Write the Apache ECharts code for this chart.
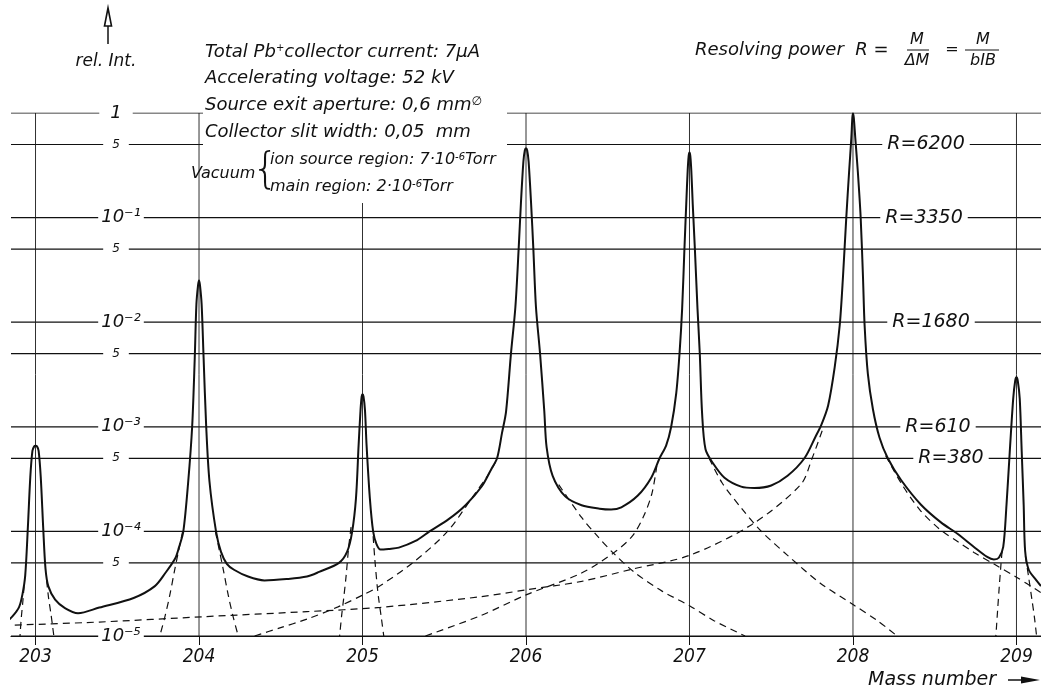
<!DOCTYPE html>
<html><head><meta charset="utf-8">
<script src="https://cdn.jsdelivr.net/npm/echarts@6/dist/echarts.min.js"></script>
<style>html,body{margin:0;padding:0;background:#fff}#c{width:1041px;height:692px}</style>
</head><body><div id="c"></div>
<script>
// ---------- data ----------
const massTicks = [203, 204, 205, 206, 207, 208, 209];
const yLevels = [1, 0.5, 0.1, 0.05, 0.01, 0.005, 0.001, 0.0005, 0.0001, 0.00005, 0.00001];
const yLevelLabels = ['1', '5', '10⁻¹', '5', '10⁻²', '5', '10⁻³', '5', '10⁻⁴', '5', '10⁻⁵'];
const rLevels = [0.5, 0.1, 0.01, 0.001, 0.0005];
const rLabels = ['R=6200', 'R=3350', 'R=1680', 'R=610', 'R=380'];

// measured total intensity (solid curve): [mass number, rel. int.]
const sumCurve = [
 [202.80,1.26e-5],[202.86,1.55e-5],[202.90,1.9e-5],[202.92,2.5e-5],[202.937,3.8e-5],[202.953,1.08e-4],
 [202.968,3.3e-4],[202.981,5.9e-4],[202.992,6.5e-4],[203.0,6.6e-4],[203.009,6.5e-4],[203.019,5.9e-4],
 [203.032,3.3e-4],[203.047,1.08e-4],[203.061,4.4e-5],[203.078,3.0e-5],[203.12,2.23e-5],[203.18,1.85e-5],
 [203.26,1.65e-5],[203.39,1.87e-5],[203.60,2.31e-5],[203.73,3.0e-5],[203.794,4.0e-5],[203.854,5.5e-5],
 [203.877,7.0e-5],[203.904,1.0e-4],[203.934,3.0e-4],[203.958,1.0e-3],[203.974,4.6e-3],[203.984,0.0148],
 [203.994,0.0225],[204.0,0.025],[204.006,0.0225],[204.016,0.0148],[204.028,4.6e-3],[204.044,1.0e-3],
 [204.064,3.0e-4],[204.104,1.0e-4],[204.134,6.4e-5],[204.17,4.9e-5],[204.214,4.3e-5],[204.3,3.7e-5],
 [204.4,3.4e-5],[204.535,3.5e-5],[204.66,3.7e-5],[204.735,4.1e-5],[204.856,5.0e-5],[204.906,6.4e-5],
 [204.936,9.8e-5],[204.96,2.07e-4],[204.976,6.6e-4],[204.988,1.45e-3],[204.995,1.95e-3],[205.0,2.05e-3],
 [205.006,1.95e-3],[205.015,1.45e-3],[205.025,6.6e-4],[205.045,2.07e-4],[205.065,1.0e-4],[205.085,7.6e-5],
 [205.11,6.7e-5],[205.16,6.8e-5],[205.222,7.0e-5],[205.324,8.1e-5],[205.41,1.0e-4],[205.527,1.31e-4],
 [205.63,1.78e-4],[205.73,2.7e-4],[205.79,4.0e-4],[205.823,5.0e-4],[205.853,8.7e-4],[205.878,1.4e-3],
 [205.908,5.0e-3],[205.935,0.0139],[205.955,0.05],[205.969,0.138],[205.984,0.343],[205.993,0.44],
 [206.0,0.46],[206.007,0.44],[206.016,0.343],[206.031,0.138],[206.045,0.05],[206.061,0.0139],
 [206.086,5.0e-3],[206.112,1.4e-3],[206.126,6.4e-4],[206.163,3.4e-4],[206.24,2.16e-4],[206.34,1.78e-4],
 [206.45,1.65e-4],[206.52,1.62e-4],[206.583,1.7e-4],[206.684,2.2e-4],[206.766,3.26e-4],[206.817,5.0e-4],
 [206.857,6.6e-4],[206.888,1.0e-3],[206.919,2.1e-3],[206.939,5.0e-3],[206.955,0.0134],[206.969,0.05],
 [206.98,0.133],[206.989,0.284],[206.995,0.39],[207.0,0.42],[207.005,0.39],[207.011,0.284],
 [207.02,0.133],[207.033,0.05],[207.049,0.0134],[207.063,5.0e-3],[207.077,1.35e-3],[207.098,6.1e-4],
 [207.143,4.5e-4],[207.214,3.26e-4],[207.316,2.68e-4],[207.397,2.6e-4],[207.5,2.75e-4],[207.6,3.4e-4],
 [207.703,5.0e-4],[207.77,8.0e-4],[207.807,1.05e-3],[207.848,1.6e-3],[207.888,3.7e-3],[207.919,9.4e-3],
 [207.939,0.0275],[207.959,0.1],[207.976,0.27],[207.99,0.58],[207.996,0.9],[208.0,0.99],
 [208.005,0.9],[208.014,0.58],[208.03,0.27],[208.047,0.1],[208.061,0.0275],[208.071,9.4e-3],
 [208.091,3.2e-3],[208.122,1.47e-3],[208.162,7.9e-4],[208.213,5.0e-4],[208.294,3.1e-4],[208.416,1.8e-4],
 [208.538,1.22e-4],[208.639,9.5e-5],[208.74,7.1e-5],[208.821,5.7e-5],[208.862,5.4e-5],[208.892,5.6e-5],
 [208.919,7.1e-5],[208.939,1.8e-4],[208.959,5.8e-4],[208.98,1.86e-3],[208.992,2.75e-3],[209.0,2.97e-3],
 [209.008,2.75e-3],[209.02,1.86e-3],[209.032,5.8e-4],[209.044,1.8e-4],[209.053,6.5e-5],[209.075,4.3e-5],
 [209.116,3.5e-5],[209.15,3.0e-5]
];

// single-line components (dashed curves): [mass number, rel. int.]
const comp203L = [[202.93,3.0e-5],[202.922,2.1e-5],[202.913,1.5e-5],[202.905,1e-5]];
const comp203R = [[203.068,3.4e-5],[203.08,2.3e-5],[203.095,1.6e-5],[203.112,1e-5]];
const comp204L = [[203.9,1.0e-4],[203.875,6.5e-5],[203.85,4.2e-5],[203.82,2.4e-5],[203.79,1.5e-5],[203.76,1e-5]];
const comp204R = [[204.1,1.0e-4],[204.125,6.5e-5],[204.15,4.2e-5],[204.18,2.4e-5],[204.21,1.5e-5],[204.24,1e-5]];
const comp205L = [[204.93,1.1e-4],[204.915,7e-5],[204.9,3.8e-5],[204.885,2.3e-5],[204.873,1.6e-5],[204.86,1e-5]];
const comp205R = [[205.065,9e-5],[205.075,5.5e-5],[205.09,3e-5],[205.1,2.2e-5],[205.115,1.5e-5],[205.13,1e-5]];
const comp206L = [[204.34,1e-5],[204.49,1.19e-5],[204.66,1.45e-5],[204.85,1.9e-5],[205.0,2.46e-5],[205.11,3.04e-5],
 [205.32,5.2e-5],[205.52,1.0e-4],[205.67,2.1e-4],[205.77,3.5e-4],[205.82,4.8e-4]];
const comp206R = [[206.2,2.8e-4],[206.34,1.36e-4],[206.44,8.9e-5],[206.53,6.3e-5],[206.66,4.1e-5],[206.83,2.7e-5],
 [207.0,1.95e-5],[207.15,1.4e-5],[207.34,1.0e-5]];
const comp207L = [[205.385,1e-5],[205.72,1.56e-5],[206.0,2.47e-5],[206.34,4.0e-5],[206.54,6.3e-5],[206.65,9e-5],
 [206.72,1.4e-4],[206.77,2.3e-4],[206.80,4.2e-4]];
const comp207R = [[207.12,5.0e-4],[207.2,2.9e-4],[207.32,1.65e-4],[207.44,1.0e-4],[207.6,5.9e-5],[207.8,3.2e-5],
 [208.0,2.0e-5],[208.15,1.4e-5],[208.27,1.0e-5]];
const comp208L = [[202.80,1.26e-5],[203.39,1.36e-5],[204.03,1.53e-5],[204.66,1.71e-5],[205.11,1.88e-5],[205.72,2.37e-5],
 [206.0,2.76e-5],[206.34,3.33e-5],[206.65,4.36e-5],[207.0,5.9e-5],[207.38,1.16e-4],[207.68,2.8e-4],[207.75,5.0e-4],[207.82,1.0e-3]];
const comp208R = [[208.2,5.3e-4],[208.3,2.8e-4],[208.41,1.6e-4],[208.53,1.05e-4],[208.64,8.0e-5],[208.74,6.3e-5],
 [208.86,4.9e-5],[209.0,3.65e-5],[209.15,2.6e-5]];
const comp209L = [[208.912,6.5e-5],[208.905,4.8e-5],[208.895,3.0e-5],[208.885,1.8e-5],[208.874,1e-5]];
const comp209R = [[209.055,5.8e-5],[209.075,3.6e-5],[209.095,2.2e-5],[209.11,1.5e-5],[209.123,1e-5]];
const components = [comp203L, comp203R, comp204L, comp204R, comp205L, comp205R, comp206L, comp206R,
  comp207L, comp207R, comp208L, comp208R, comp209L, comp209R];

// ---------- layout ----------
const GRID_LEFT = 11, GRID_TOP = 113, GRID_W = 1030, GRID_H = 523;
const X_MIN = 202.85, X_MAX = 209.15, Y_MIN = 0.00001, Y_MAX = 1;
const pxToMass = px => X_MIN + (px - GRID_LEFT) * (X_MAX - X_MIN) / GRID_W;
const FONT = '"DejaVu Sans", "Liberation Sans", sans-serif';
const FONT_C = '"DejaVu Sans Condensed", "DejaVu Sans", sans-serif';
const INK = '#111';
const rLabelPx = [926, 924, 931, 938, 951];

const levelLabelData = yLevels.map((v, i) => {
  const t = yLevelLabels[i];
  const isFive = t === '5', isOne = t === '1';
  return {
    value: [pxToMass(isFive || isOne ? 116 : 121), v],
    label: { formatter: t, fontSize: isFive ? 12 : 18, padding: isFive ? [1, 9] : (isOne ? [0, 11] : [0, 3]) }
  };
});
const rLabelData = rLevels.map((v, i) => ({
  value: [pxToMass(rLabelPx[i]), v],
  label: { formatter: rLabels[i], fontSize: 19, padding: [0, 5] }
}));

const series = [];
// horizontal reference lines
yLevels.forEach(v => series.push({
  type: 'line', data: [[X_MIN, v], [X_MAX, v]], showSymbol: false, silent: true, z: 1,
  lineStyle: { color: INK, width: 1.2 }
}));
// vertical lines at the mass numbers
massTicks.forEach(m => series.push({
  type: 'line', data: [[m, Y_MIN], [m, Y_MAX]], showSymbol: false, silent: true, z: 1,
  lineStyle: { color: '#1a1a1a', width: 0.9 }
}));
series.push({
  type: 'line', data: sumCurve, showSymbol: false, smooth: 0.3, z: 3, silent: true,
  lineStyle: { color: INK, width: 2, join: 'round' }
});
components.forEach(c => series.push({
  type: 'line', data: c, showSymbol: false, smooth: 0.3, z: 3, silent: true,
  lineStyle: { color: INK, width: 1.2, type: [7, 5] }
}));
series.push({
  type: 'scatter', z: 10, silent: true, symbolSize: 0, itemStyle: { color: '#fff', opacity: 1 },
  data: levelLabelData.concat(rLabelData),
  label: { show: true, position: 'inside', color: INK, fontFamily: FONT, fontStyle: 'oblique',
           backgroundColor: '#fff', opacity: 1 }
});

const supRich = {
  s: { fontSize: 10, verticalAlign: 'top', fontFamily: FONT, fontStyle: 'oblique', fill: INK, lineHeight: 10 },
  d: { fontSize: 12, verticalAlign: 'top', fontFamily: FONT, fontStyle: 'normal', fill: INK, lineHeight: 11 }
};
function txt(text, x, y, size, extra) {
  return {
    type: 'text', x: x, y: y, z: 100,
    style: Object.assign({ text: text, fill: INK, fontSize: size, fontFamily: FONT, fontStyle: 'oblique',
      verticalAlign: 'middle', align: 'left', rich: supRich }, extra || {})
  };
}

const graphic = [
  { type: 'rect', z: 90, shape: { x: 203, y: 0, width: 304, height: 203 }, style: { fill: '#fff' } },
  // y-axis arrow
  { type: 'line', z: 100, shape: { x1: 108, y1: 20, x2: 108, y2: 44 }, style: { stroke: INK, lineWidth: 1.5 } },
  { type: 'polygon', z: 100, shape: { points: [[104.5, 26], [108, 8], [111.5, 26]] }, style: { fill: '#fff', stroke: INK, lineWidth: 1.6 } },
  txt('rel. Int.', 106, 62, 17, { align: 'center' }),
  txt('Total Pb{s|+}collector current: 7µA', 205, 52, 18),
  txt('Accelerating voltage: 52 kV', 205, 78, 18),
  txt('Source exit aperture: 0,6 mm{d|∅}', 205, 105, 18),
  txt('Collector slit width: 0,05  mm', 205, 132, 18),
  txt('Vacuum', 191, 174, 16),
  txt('{', 252, 172, 42, { fontStyle: 'normal', fontFamily: '"DejaVu Sans ExtraLight", "DejaVu Sans", sans-serif', fontWeight: 200 }),
  txt('ion source region: 7·10{s|-6}Torr', 270, 160, 16),
  txt('main region: 2·10{s|-6}Torr', 270, 187, 16),
  txt('Resolving power  R =', 695, 50, 18),
  txt('M', 917, 40, 16, { align: 'center' }),
  { type: 'line', z: 100, shape: { x1: 907, y1: 50, x2: 929, y2: 50 }, style: { stroke: INK, lineWidth: 1 } },
  txt('ΔM', 917, 61, 16, { align: 'center' }),
  txt('=', 952, 50, 16, { align: 'center' }),
  txt('M', 983, 40, 16, { align: 'center' }),
  { type: 'line', z: 100, shape: { x1: 965, y1: 50, x2: 999, y2: 50 }, style: { stroke: INK, lineWidth: 1 } },
  txt('bIB', 983, 61, 16, { align: 'center' }),
  txt('Mass number', 868, 680, 19),
  { type: 'line', z: 100, shape: { x1: 1008, y1: 680, x2: 1026, y2: 680 }, style: { stroke: INK, lineWidth: 1.5 } },
  { type: 'polygon', z: 100, shape: { points: [[1021, 676.5], [1040, 680], [1021, 683.5]] }, style: { fill: INK } }
];

const chart = echarts.init(document.getElementById('c'));
chart.setOption({
  animation: false,
  backgroundColor: '#fff',
  grid: { left: GRID_LEFT, top: GRID_TOP, width: GRID_W, height: GRID_H, containLabel: false },
  xAxis: {
    type: 'value', min: X_MIN, max: X_MAX,
    axisLine: { show: true, onZero: false, lineStyle: { color: INK, width: 1.2 } },
    axisTick: { show: true, customValues: massTicks, length: 9, lineStyle: { color: INK, width: 1 } },
    axisLabel: { show: true, customValues: massTicks, margin: 12, color: INK, fontSize: 19,
                 fontFamily: FONT_C, fontStyle: 'oblique', formatter: v => String(Math.round(v)) },
    splitLine: { show: false }
  },
  yAxis: {
    type: 'log', logBase: 10, min: Y_MIN, max: Y_MAX,
    axisLine: { show: false }, axisTick: { show: false }, axisLabel: { show: false }, splitLine: { show: false }
  },
  series: series,
  graphic: graphic
});
</script></body></html>
